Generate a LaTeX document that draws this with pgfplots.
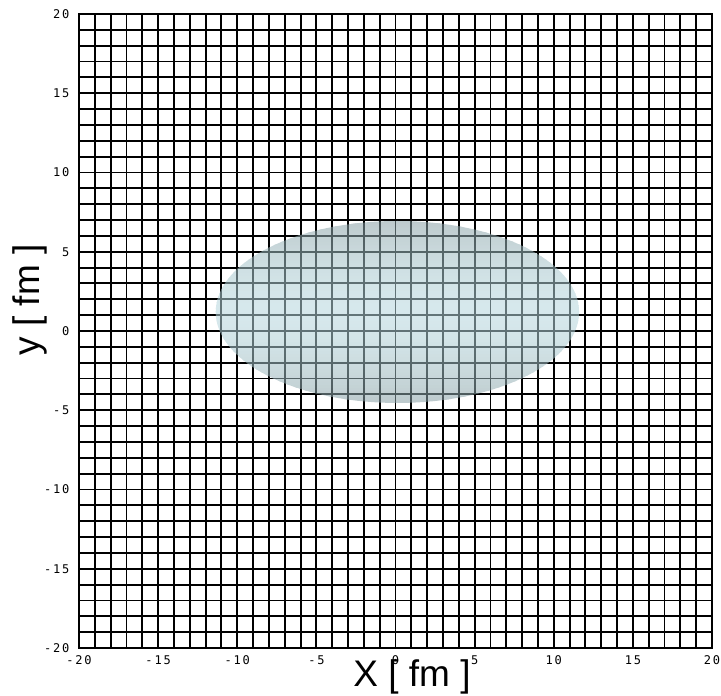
\documentclass[border=0pt]{standalone}
\usepackage{fontspec}
\setmainfont{Liberation Sans}
\newfontfamily\tickfont[LetterSpace=15]{DejaVu Sans Mono}
\usepackage{pgfplots}
\pgfplotsset{compat=1.18}
\definecolor{shellmid}{rgb}{0.71,0.84,0.865}
\definecolor{shelledge}{rgb}{0.53,0.62,0.64}
% ellipse of the density profile: centre and semi-axes in fm
\def\cx{0.12}\def\cy{1.2}\def\ra{11.48}\def\rb{5.74}
% axis box: 633pt x 634pt for 40 fm each way
\def\ux{15.825pt}\def\uy{15.85pt}
\begin{document}
\begin{tikzpicture}
\begin{axis}[
  name=ax,
  scale only axis,
  width=633pt, height=634pt,
  xmin=-20, xmax=20, ymin=-20, ymax=20,
  xtick={-20,-15,...,20}, ytick={-20,-15,...,20},
  minor x tick num=4, minor y tick num=4,
  grid=both,
  major grid style={black, line width=1.9pt},
  minor grid style={black, line width=1.9pt},
  axis line style={black, line width=1.9pt},
  major tick length=0pt, minor tick length=0pt,
  /pgf/number format/assume math mode=true,
  ticklabel style={font=\tickfont\fontsize{12}{13}\selectfont},
  xticklabel style={yshift=-4pt},
  yticklabel style={xshift=-6pt},
  xlabel={X [ fm ]},
  ylabel={y [ fm ]},
  label style={font=\fontsize{37}{40}\selectfont},
  xlabel style={at={(axis description cs:0.526,-0.046)}, anchor=center},
  ylabel style={at={(axis description cs:-0.077,0.549)}, anchor=center, rotate=0},
  after end axis/.code={
    % translucent shell with a vertical grey-cyan-grey gradient, laid over the grid
    \begin{scope}[transparency group, opacity=0.55]
      \clip (axis cs:\cx,\cy) ellipse [x radius={\ra*\ux}, y radius={\rb*\uy}];
      \foreach \i in {0,...,59} {
        \pgfmathsetmacro\ya{\cy-\rb+\i*2*\rb/60}
        \pgfmathsetmacro\yb{\ya+2*\rb/60+0.05}
        \pgfmathsetmacro\t{abs((\ya+\rb/60-\cy)/\rb)}
        \pgfmathsetmacro\p{100*(1-\t^1.6)}
        \fill[shellmid!\p!shelledge] (axis cs:-13,\ya) rectangle (axis cs:13,\yb);
      }
    \end{scope}
  },
]
\end{axis}
\pgfresetboundingbox
\path ([shift={(-79pt,-47pt)}]ax.south west) rectangle ([shift={(9pt,14pt)}]ax.north east);
\end{tikzpicture}
\end{document}
